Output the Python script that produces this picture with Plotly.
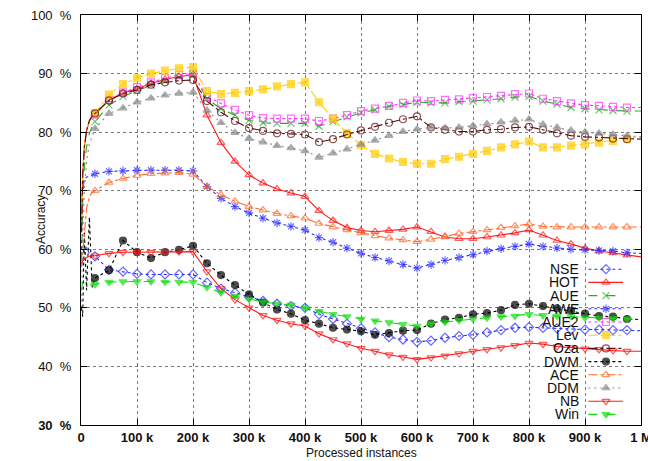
import plotly.graph_objects as go

# processed instances (thousands): a few early points without markers, then every 25k
x_early_k = [1, 3, 6, 10, 15, 20]
x_main_k = [25 * i for i in range(1, 41)]
instances = [k * 1000 for k in x_early_k + x_main_k]

x_tick_vals = [i * 100000 for i in range(11)]
x_tick_text = ['0', '100 k', '200 k', '300 k', '400 k', '500 k', '600 k',
               '700 k', '800 k', '900 k', '1 M']
y_tick_vals = [30, 40, 50, 60, 70, 80, 90, 100]
y_tick_text = ['30\u00a0\u00a0%', '40\u00a0\u00a0%', '50\u00a0\u00a0%', '60\u00a0\u00a0%',
               '70\u00a0\u00a0%', '80\u00a0\u00a0%', '90\u00a0\u00a0%', '100\u00a0\u00a0%']

# accuracy in %
nse = [59.0, 60.0, 59.5, 60.3, 59.2, 59.0,
       58.8, 56.5, 56.2, 55.8, 55.7, 55.7, 55.7, 55.7, 54.3, 53.3,
       52.6, 51.9, 51.2, 50.7, 50.3, 50.0, 48.9, 48.1, 47.3, 46.5,
       45.8, 45.0, 44.6, 44.2, 44.4, 44.9, 45.2, 45.4, 45.8, 46.2,
       46.6, 46.7, 46.6, 46.5, 46.3, 46.3, 46.3, 46.2, 46.2, 46.1]
hot = [64.0, 73.0, 77.5, 80.3, 81.9, 82.7,
       83.1, 85.5, 86.7, 87.4, 88.3, 89.0, 89.5, 89.8, 82.9, 78.2,
       75.0, 72.7, 71.3, 70.3, 69.6, 69.0, 66.6, 64.9, 63.7, 63.2,
       63.0, 63.2, 63.4, 63.8, 63.0, 62.1, 61.8, 61.8, 62.1, 62.4,
       62.8, 63.3, 62.4, 61.5, 60.9, 60.2, 59.7, 59.4, 59.0, 58.7]
aue = [58.0, 68.0, 74.0, 77.5, 79.8, 81.0,
       81.8, 84.6, 86.1, 87.1, 88.0, 88.7, 89.4, 89.9, 85.7, 84.0,
       82.9, 82.0, 81.6, 81.5, 81.5, 81.5, 81.0, 81.8, 82.6, 83.3,
       83.8, 84.4, 84.7, 85.1, 85.0, 85.0, 85.2, 85.3, 85.5, 85.7,
       86.0, 86.1, 85.3, 84.8, 84.2, 84.0, 83.8, 83.7, 83.6, 83.6]
awe = [60.0, 70.0, 72.0, 72.3, 72.5, 72.7,
       72.9, 73.3, 73.4, 73.5, 73.5, 73.5, 73.5, 73.4, 70.7, 68.7,
       67.3, 66.2, 65.3, 64.5, 63.9, 63.3, 62.0, 61.2, 60.2, 59.3,
       58.6, 58.0, 57.4, 56.8, 57.4, 58.1, 58.6, 59.1, 59.7, 60.1,
       60.5, 60.9, 60.5, 60.2, 60.0, 59.9, 59.8, 59.7, 59.4, 59.3]
aue2 = [66.0, 73.0, 77.5, 80.2, 81.8, 82.6,
        83.0, 85.5, 86.8, 87.7, 88.5, 89.2, 89.8, 90.0, 86.0, 84.9,
        83.8, 82.9, 82.4, 82.3, 82.3, 82.3, 81.9, 82.3, 82.9, 83.6,
        84.0, 84.5, 85.0, 85.4, 85.3, 85.5, 85.6, 85.8, 86.0, 86.2,
        86.5, 86.6, 85.7, 85.3, 84.9, 84.6, 84.5, 84.3, 84.2, 84.2]
lev = [62.0, 72.0, 77.5, 80.5, 82.0, 82.8,
       83.2, 86.4, 88.2, 89.2, 90.0, 90.5, 90.9, 91.1, 87.0, 86.5,
       86.7, 87.0, 87.3, 87.8, 88.2, 88.5, 85.1, 82.3, 79.8, 77.8,
       76.3, 75.5, 74.9, 74.6, 74.6, 75.4, 75.8, 76.3, 76.8, 77.4,
       77.9, 78.4, 77.4, 77.4, 77.7, 77.9, 78.2, 78.5, 78.9, 79.2]
oza = [63.0, 72.5, 77.3, 80.3, 82.0, 82.8,
       83.2, 85.4, 86.6, 87.2, 88.1, 88.5, 88.8, 88.9, 85.3, 83.4,
       81.9, 80.7, 80.2, 79.8, 79.7, 79.6, 78.3, 78.8, 79.6, 80.3,
       80.9, 81.6, 82.2, 82.7, 80.8, 80.4, 80.1, 80.1, 80.4, 80.5,
       80.8, 80.9, 80.4, 79.8, 79.4, 79.2, 79.1, 78.9, 78.8, 78.8]
dwm = [50.0, 48.5, 63.0, 53.0, 65.5, 53.5,
       55.1, 56.4, 61.5, 59.5, 58.5, 59.5, 59.9, 60.6, 57.6, 55.6,
       53.9, 52.3, 50.9, 49.7, 49.0, 47.9, 47.3, 46.6, 46.3, 46.0,
       45.4, 45.7, 46.1, 46.2, 47.3, 48.0, 48.3, 48.9, 49.1, 49.6,
       50.5, 50.7, 50.3, 49.9, 49.5, 49.0, 48.6, 48.5, 48.1, 48.0]
ace = [57.0, 59.5, 63.0, 67.0, 69.0, 69.7,
       70.0, 71.4, 72.1, 72.6, 72.9, 73.0, 73.1, 72.8, 70.7, 69.3,
       68.2, 67.3, 66.7, 66.1, 65.7, 65.3, 64.4, 63.8, 63.3, 62.8,
       62.3, 61.9, 61.6, 61.3, 61.7, 62.2, 62.7, 63.0, 63.3, 63.7,
       64.0, 64.3, 63.9, 63.8, 63.8, 63.8, 63.8, 63.8, 63.8, 63.8]
ddm = [50.0, 62.0, 70.0, 75.0, 78.0, 79.5,
       80.6, 83.2, 84.1, 85.1, 85.8, 86.3, 86.6, 86.8, 83.7, 81.6,
       79.9, 78.9, 78.3, 77.7, 77.3, 76.8, 75.7, 76.4, 77.1, 77.9,
       78.6, 79.4, 80.1, 80.5, 80.8, 80.7, 80.8, 81.1, 81.4, 81.7,
       82.0, 82.2, 81.3, 80.8, 80.3, 80.0, 79.8, 79.6, 79.4, 79.2]
nb = [57.5, 58.0, 58.3, 58.6, 58.8, 58.9,
      58.9, 59.3, 59.5, 59.5, 59.5, 59.6, 59.6, 59.6, 56.2, 53.3,
      51.4, 50.0, 48.7, 47.9, 47.3, 46.9, 45.6, 44.6, 43.9, 43.1,
      42.6, 42.0, 41.6, 41.2, 41.5, 41.8, 42.2, 42.6, 42.9, 43.2,
      43.6, 44.0, 43.8, 43.4, 43.2, 43.0, 42.9, 42.7, 42.6, 42.6]
win = [53.0, 54.5, 54.0, 53.8, 53.9, 54.0,
       54.0, 54.4, 54.5, 54.5, 54.5, 54.4, 54.4, 54.4, 53.5, 52.6,
       52.0, 51.5, 51.0, 50.7, 50.5, 50.0, 49.4, 48.9, 48.5, 48.1,
       47.8, 47.5, 47.2, 46.9, 47.3, 47.6, 47.9, 48.1, 48.3, 48.5,
       48.6, 48.9, 48.7, 48.6, 48.5, 48.3, 48.3, 48.2, 48.1, 48.0]

# name, values, colour, dash, symbol
series = [
    ('NSE', nse, '#2a2aff', 'dot', 'diamond-open'),
    ('HOT', hot, '#ff1a1a', 'solid', 'triangle-up-open'),
    ('AUE', aue, '#22b022', 'dash', 'x-thin-open'),
    ('AWE', awe, '#2a2aff', 'dot', 'asterisk-open'),
    ('AUE2', aue2, '#ff33ff', 'dot', 'square-open'),
    ('Lev', lev, '#ffcc00', 'dashdot', 'square'),
    ('Oza', oza, '#5a0d0d', 'dashdot', 'circle-open'),
    ('DWM', dwm, '#000000', '3px,3px', 'circle'),
    ('ACE', ace, '#ff6a2a', 'dashdot', 'triangle-up-open'),
    ('DDM', ddm, '#888888', '2px,4px', 'triangle-up'),
    ('NB', nb, '#ff1a1a', 'solid', 'triangle-down-open'),
    ('Win', win, '#11dd11', 'dash', 'triangle-down'),
]

FONT = 'Liberation Sans, Arial, sans-serif'
MARK = 7
# markers only every 25k, not on the early points or at the right edge
sizes = [0] * len(x_early_k) + [MARK] * (len(x_main_k) - 1) + [0]

fig = go.Figure()

for name, vals, col, dash, sym in series:
    fig.add_trace(go.Scatter(
        x=instances, y=vals, name=name, mode='lines+markers',
        line=dict(color=col, width=1.1, dash=dash),
        marker=dict(symbol=sym, size=sizes, color=col,
                    line=dict(color=col, width=1.2)),
        showlegend=False))

# gnuplot-like key: text on the left, sample on the right
KEY_TEXT_X = 0.892
KEY_LINE_X = [0.906, 0.9375, 0.968]
KEY_TOP = 0.380
KEY_STEP = 0.0322
for i, (name, vals, col, dash, sym) in enumerate(series):
    ky = KEY_TOP - i * KEY_STEP
    fig.add_trace(go.Scatter(
        x=KEY_LINE_X, y=[ky] * 3, xaxis='x2', yaxis='y2', mode='lines+markers',
        line=dict(color=col, width=1.1, dash=dash),
        marker=dict(symbol=sym, size=[0, MARK, 0], color=col,
                    line=dict(color=col, width=1.2)),
        showlegend=False, hoverinfo='skip'))
    fig.add_annotation(x=KEY_TEXT_X, y=ky, xref='paper', yref='paper',
                       text=name, showarrow=False, xanchor='right',
                       yanchor='middle', font=dict(size=14, color='#111'))

# axis titles
fig.add_annotation(x=0.5, y=-0.068, xref='paper', yref='paper',
                   text='Processed instances', showarrow=False,
                   xanchor='center', yanchor='middle', font=dict(size=12, color='#111'))
fig.add_annotation(x=-0.0714, y=0.5, xref='paper', yref='paper',
                   text='Accuracy', showarrow=False, textangle=-90,
                   xanchor='center', yanchor='middle', font=dict(size=12, color='#111'))

axis_style = dict(showline=True, linecolor='black', linewidth=1, mirror='ticks',
                  ticks='inside', ticklen=6, tickcolor='black', automargin=False,
                  showgrid=True, gridcolor='#7a7a7a', griddash='dot', gridwidth=1,
                  zeroline=False, tickfont=dict(size=13, color='#111'),
                  ticklabeloverflow='allow')

fig.update_layout(
    width=648, height=461,
    margin=dict(l=81, r=7, t=15, b=36),
    paper_bgcolor='white', plot_bgcolor='white',
    font=dict(family=FONT, color='#111'),
    showlegend=False,
    xaxis=dict(range=[0, 1000000], tickvals=x_tick_vals,
               ticktext=['<b>' + t + '</b>' for t in x_tick_text],
               **axis_style),
    yaxis=dict(range=[30, 100], tickvals=y_tick_vals,
               ticktext=['<b>' + y_tick_text[0] + '</b>'] + y_tick_text[1:],
               ticklabelstandoff=6,
               **axis_style),
    xaxis2=dict(range=[0, 1], overlaying='x', visible=False),
    yaxis2=dict(range=[0, 1], overlaying='y', visible=False),
)

# the page's default body margin would shift the figure by 8 px
fig.write_html("out.html", config={'displayModeBar': False},
               post_script="document.body.style.margin='0';")
